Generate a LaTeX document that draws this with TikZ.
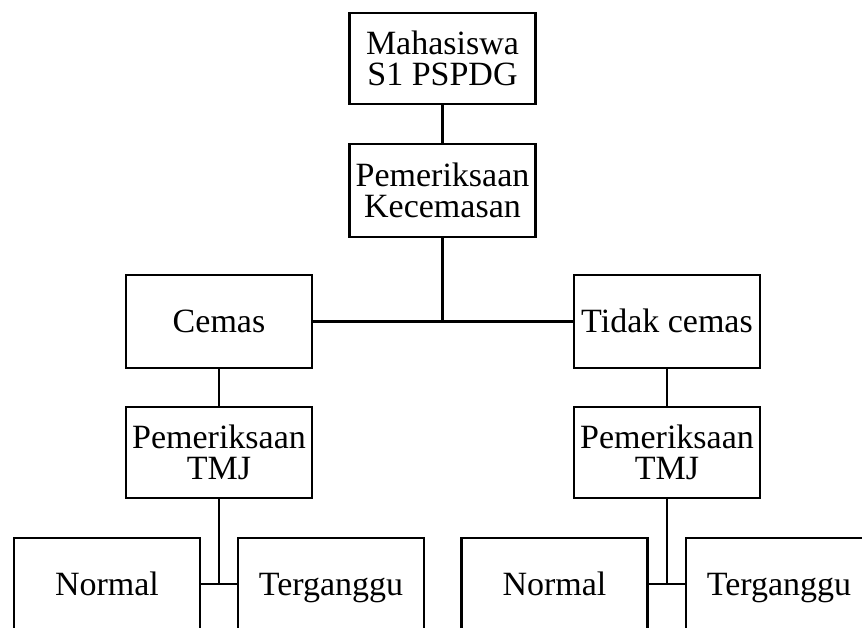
\documentclass[tikz,border=0pt]{standalone}
\usepackage{fontspec}
\setmainfont{Liberation Serif}
\begin{document}
\begin{tikzpicture}[x=1pt,y=-1pt,
  base/.style={draw,line width=2.4pt,minimum width=186pt,minimum height=92pt,inner sep=0pt,
    font=\fontsize{34}{31}\selectfont},
  box/.style={base,align=center},
  onebox/.style={base,text height=22.5pt,text depth=0pt},
  conn/.style={line width=2.4pt}]
\clip (0,0) rectangle (862,627);
\node[box,minimum height=91pt] (mhs) at (442.5,58.5) {Mahasiswa\\S1 PSPDG};
\node[box,minimum height=93pt] (pk) at (442.5,190.5) {Pemeriksaan\\Kecemasan};
\node[onebox,minimum height=93pt] (cemas) at (219,321.5) {Cemas};
\node[onebox,minimum height=93pt] (tidak) at (667,321.5) {Tidak cemas};
\node[box,minimum height=91pt] (tmjl) at (219,452.5) {Pemeriksaan\\TMJ};
\node[box,minimum height=91pt] (tmjr) at (667,452.5) {Pemeriksaan\\TMJ};
\node[onebox] (nl) at (107,584) {Normal};
\node[onebox] (tl) at (331,584) {Terganggu};
\node[onebox] (nr) at (554.5,584) {Normal};
\node[onebox] (tr) at (779,584) {Terganggu};
\coordinate (j1) at (pk.south |- cemas.east);
\coordinate (j2) at (tmjl.south |- nl.east);
\coordinate (j3) at (tmjr.south |- nr.east);
\draw[conn] (mhs) -- (pk);
\draw[conn] (pk.south) -- (j1);
\draw[conn] (cemas.east) -- (tidak.west);
\draw[conn] (cemas) -- (tmjl);
\draw[conn] (tidak) -- (tmjr);
\draw[conn] (tmjl.south) -- (j2);
\draw[conn] (nl.east) -- (tl.west);
\draw[conn] (tmjr.south) -- (j3);
\draw[conn] (nr.east) -- (tr.west);
\end{tikzpicture}
\end{document}
